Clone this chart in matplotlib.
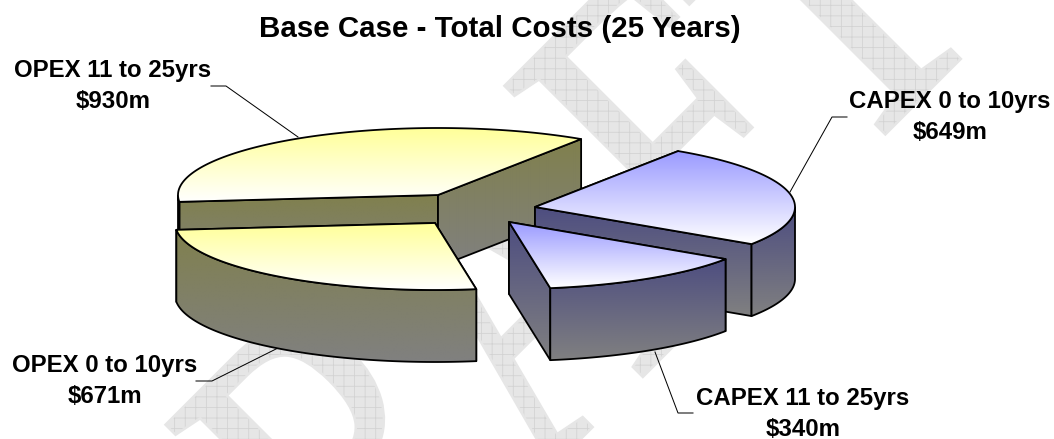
"""
Base case total costs, drawn as an exploded 3D pie.
"""

import numpy as np

import matplotlib
matplotlib.use("Agg")
import matplotlib.pyplot as plt
import matplotlib.patheffects as pe
from matplotlib.colors import LinearSegmentedColormap
from matplotlib.patches import Polygon
from matplotlib.transforms import Affine2D


W, H = 1054, 439
DPI = 127  # hatch tile follows dpi, this gives the 10.6px watermark grid

title = "Base Case - Total Costs (25 Years)"
labels = ["CAPEX 0 to 10yrs", "CAPEX 11 to 25yrs",
          "OPEX 0 to 10yrs", "OPEX 11 to 25yrs"]
values = [649, 340, 671, 930]

# layout, in pixels
centers = [(535, 207), (509, 222), (435, 223), (438, 195)]
label_pos = [(950, 117), (803, 414), (105, 381), (113, 86)]
leaders = [[(847, 117), (832, 117), (790, 192)],
           [(693, 413), (678, 413), (655, 352)],
           [(196, 381), (212, 381), (278, 348)],
           [(211, 86), (226, 86), (298, 137)]]
top_colors = ["#9999ff", "#9999ff", "#ffff99", "#ffff99"]
side_colors = ["#4d4d80", "#4d4d80", "#80804d", "#80804d"]
draw_order = [3, 0, 1, 2]
RX, RY, DEPTH = 260, 67, 72
START_ANGLE = 56.6
MARK_X, MARK_Y, MARK_ANGLE, MARK_SQUEEZE = 597, 421, 45, 0.75


def px(size):
    return size * 72.0 / DPI


class SqueezedPatch(pe.PathPatchEffect):
    # the watermark letters are narrower than the font, squeeze along the baseline
    def __init__(self, anchor, **kwargs):
        super().__init__(**kwargs)
        self.anchor = anchor

    def _offset_transform(self, renderer):
        x, y = self.anchor
        return (Affine2D().translate(-x, -y).rotate_deg(-MARK_ANGLE)
                .scale(MARK_SQUEEZE, 1).rotate_deg(MARK_ANGLE).translate(x, y))


def arc(center, t1, t2, n=120):
    t = np.radians(np.linspace(t1, t2, n))
    return np.column_stack([center[0] + RX * np.cos(t),
                            center[1] - RY * np.sin(t)])


def gradient_fill(ax, points, color1, color2, zorder):
    points = np.asarray(points)
    x0, y0 = points.min(axis=0)
    x1, y1 = points.max(axis=0)
    cmap = LinearSegmentedColormap.from_list("g", [color1, color2])
    img = ax.imshow(np.linspace(0, 1, 256).reshape(-1, 1), cmap=cmap,
                    extent=[x0, x1, y1, y0], aspect="auto",
                    interpolation="bilinear", zorder=zorder)
    patch = Polygon(points, closed=True, facecolor="none", edgecolor="black",
                    linewidth=px(1.8), joinstyle="round", zorder=zorder + 0.1)
    ax.add_patch(patch)
    img.set_clip_path(patch)


plt.rcParams["font.family"] = ["Liberation Sans", "DejaVu Sans"]
plt.rcParams["hatch.linewidth"] = 0.45

fig = plt.figure(figsize=(W / DPI, H / DPI), dpi=DPI)
ax = fig.add_axes([0, 0, 1, 1])
ax.set_xlim(0, W)
ax.set_ylim(H, 0)

anchor = ax.transData.transform((MARK_X, MARK_Y))
ax.text(MARK_X, MARK_Y, "DRAFT", family="Liberation Serif", fontsize=px(460),
        rotation=MARK_ANGLE, rotation_mode="anchor", ha="center", va="baseline",
        color="#e6e6e6", zorder=0,
        path_effects=[SqueezedPatch(anchor, facecolor="#e6e6e6", edgecolor="#e6e6e6",
                                    linewidth=px(5)),
                      SqueezedPatch(anchor, facecolor="#e6e6e6", edgecolor="#d2d2d2",
                                    hatch="++", linewidth=0)])

spans = np.array(values) / float(sum(values)) * 360.0
ends = START_ANGLE - np.cumsum(spans)
starts = ends + spans

z = 2
for i in draw_order:
    c = centers[i]
    rim = arc(c, starts[i], ends[i])
    down = np.array([0, DEPTH])
    # radial faces first, the rim and the top cover the hidden ones
    for p in (rim[0], rim[-1]):
        face = [c, p, p + down, np.array(c) + down]
        gradient_fill(ax, face, side_colors[i], "#808080", z)
        z += 1
    front = rim[np.sin(np.radians(np.linspace(starts[i], ends[i], len(rim)))) <= 0]
    outer = np.vstack([front, front[::-1] + down])
    gradient_fill(ax, outer, side_colors[i], "#808080", z)
    z += 1
    gradient_fill(ax, np.vstack([[c], rim]), top_colors[i], "#ffffff", z)
    z += 1

for i in range(len(labels)):
    xs, ys = zip(*leaders[i])
    ax.plot(xs, ys, color="black", linewidth=px(1.0), zorder=1)
    ax.text(label_pos[i][0], label_pos[i][1], "%s\n$%dm" % (labels[i], values[i]),
            fontsize=px(24), fontweight="bold", ha="center", va="center",
            linespacing=1.42, zorder=50)

ax.text(500, 29, title, fontsize=px(29.5), fontweight="bold",
        ha="center", va="center", zorder=50)

ax.set_xlim(0, W)
ax.set_ylim(H, 0)
ax.axis("off")

fig.savefig("out.png", dpi=DPI, facecolor="white")
